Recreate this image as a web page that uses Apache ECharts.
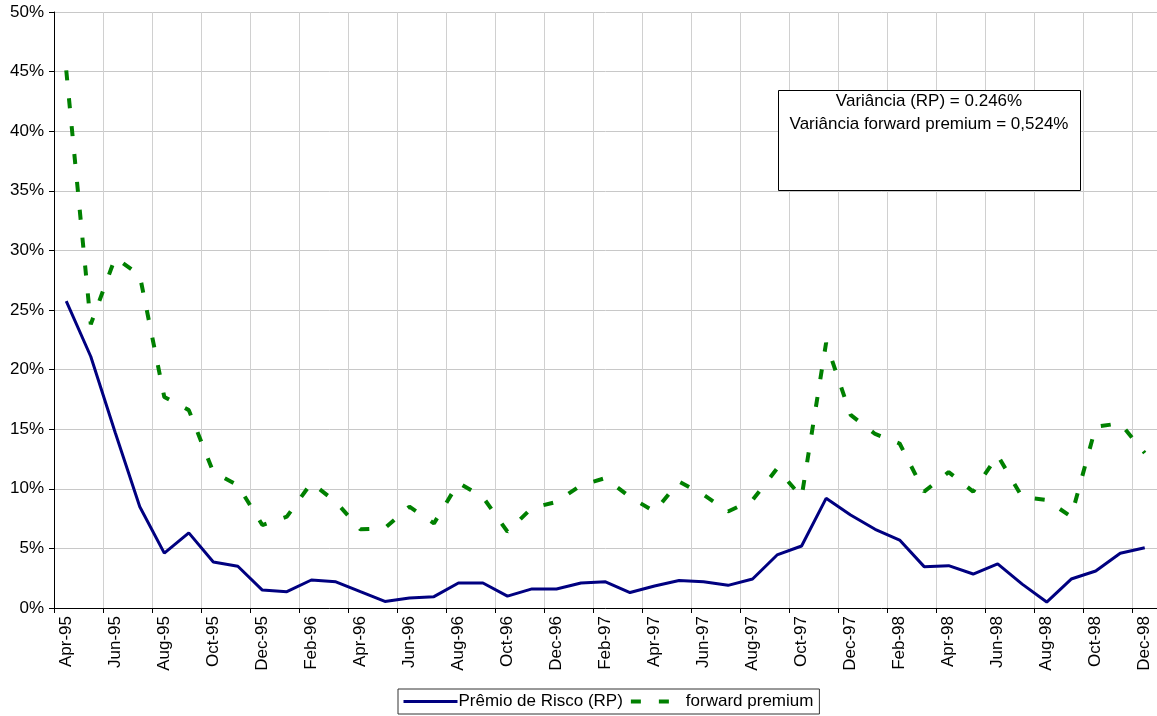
<!DOCTYPE html>
<html>
<head>
<meta charset="utf-8">
<script src="https://cdn.jsdelivr.net/npm/echarts@6/dist/echarts.min.js"></script>
<style>
  html, body { margin: 0; padding: 0; background: #fff; }
  #chart { width: 1157px; height: 716px; }
</style>
</head>
<body>
<div id="chart"></div>
<script>
// meses (abr/95 a dez/98)
const months = [
  'Apr-95', 'May-95', 'Jun-95', 'Jul-95', 'Aug-95', 'Sep-95', 'Oct-95', 'Nov-95', 'Dec-95',
  'Jan-96', 'Feb-96', 'Mar-96', 'Apr-96', 'May-96', 'Jun-96', 'Jul-96', 'Aug-96', 'Sep-96', 'Oct-96', 'Nov-96', 'Dec-96',
  'Jan-97', 'Feb-97', 'Mar-97', 'Apr-97', 'May-97', 'Jun-97', 'Jul-97', 'Aug-97', 'Sep-97', 'Oct-97', 'Nov-97', 'Dec-97',
  'Jan-98', 'Feb-98', 'Mar-98', 'Apr-98', 'May-98', 'Jun-98', 'Jul-98', 'Aug-98', 'Sep-98', 'Oct-98', 'Nov-98', 'Dec-98'
];

// Prêmio de Risco (RP), em %
const premioRisco = [
  25.75, 21.1, 14.7, 8.5, 4.6, 6.3, 3.86, 3.5, 1.5,
  1.37, 2.35, 2.2, 1.37, 0.55, 0.84, 0.95, 2.1, 2.1, 1.0, 1.6, 1.6,
  2.1, 2.2, 1.3, 1.85, 2.3, 2.2, 1.9, 2.43, 4.45, 5.2, 9.2, 7.8,
  6.6, 5.7, 3.47, 3.55, 2.85, 3.7, 2.0, 0.5, 2.43, 3.1, 4.6, 5.06
];

// forward premium, em %
const forwardPremium = [
  45.1, 23.8, 29.4, 27.9, 17.7, 16.6, 11.4, 10.3, 6.96,
  7.66, 10.5, 8.9, 6.6, 6.7, 8.5, 7.1, 10.5, 9.3, 6.4, 8.4, 8.9,
  10.3, 10.9, 9.3, 8.1, 10.6, 9.5, 8.1, 9.06, 11.7, 9.3, 22.25, 16.2,
  14.6, 13.8, 9.76, 11.4, 9.76, 12.8, 9.3, 9.06, 7.66, 15.2, 15.5, 13.0
];

const boxLines = [
  'Variância (RP) = 0.246%',
  'Variância forward premium = 0,524%'
];

const FONT = '"Liberation Sans", Arial, sans-serif';

const chart = echarts.init(document.getElementById('chart'));

chart.setOption({
  animation: false,
  textStyle: { fontFamily: FONT },
  grid: { left: 54, right: 0, top: 12, bottom: 108, containLabel: false },
  legend: {
    left: 398,
    top: 689,
    padding: [4, 6, 4, 4],
    borderColor: '#333',
    borderWidth: 1,
    backgroundColor: '#fff',
    itemWidth: 54,
    itemHeight: 12,
    itemGap: 6,
    // esconde o marcador, mantém só a linha
    itemStyle: { opacity: 0 },
    textStyle: { fontFamily: FONT, fontSize: 17, color: '#000', padding: [0, 0, 0, -4] },
    data: [
      { name: 'Prêmio de Risco (RP)', lineStyle: { width: 3 } },
      { name: 'forward premium', lineStyle: { width: 4, type: [10, 18] } }
    ]
  },
  xAxis: {
    type: 'category',
    data: months,
    boundaryGap: true,
    axisLine: { lineStyle: { color: '#000', width: 1 } },
    axisTick: { show: true, interval: 1, length: 5, lineStyle: { color: '#000' } },
    axisLabel: {
      interval: 1,
      rotate: 90,
      margin: 8,
      fontFamily: FONT,
      fontSize: 17,
      color: '#000'
    },
    splitLine: { show: true, interval: 1, lineStyle: { color: '#d0d0d0', width: 1 } }
  },
  yAxis: {
    type: 'value',
    min: 0,
    max: 50,
    interval: 5,
    axisLine: { show: true, lineStyle: { color: '#000', width: 1 } },
    axisTick: { show: true, length: 5, lineStyle: { color: '#000' } },
    axisLabel: {
      formatter: '{value}%',
      margin: 10,
      fontFamily: FONT,
      fontSize: 17,
      color: '#000'
    },
    splitLine: { show: true, lineStyle: { color: '#c8c8c8', width: 1 } }
  },
  series: [
    {
      name: 'Prêmio de Risco (RP)',
      type: 'line',
      data: premioRisco,
      symbol: 'none',
      lineStyle: { color: '#000080', width: 3 },
      itemStyle: { color: '#000080' },
      z: 3
    },
    {
      name: 'forward premium',
      type: 'line',
      data: forwardPremium,
      symbol: 'none',
      lineStyle: { color: '#008000', width: 4, type: [10, 18] },
      itemStyle: { color: '#008000' },
      z: 2
    }
  ],
  graphic: [
    {
      type: 'rect',
      shape: { x: 778.5, y: 90.5, width: 302, height: 100 },
      style: { fill: '#fff', stroke: '#000', lineWidth: 1 },
      z: 10
    },
    {
      type: 'text',
      x: 929,
      y: 101,
      style: {
        text: boxLines[0],
        font: '17px ' + FONT,
        fill: '#000',
        align: 'center',
        verticalAlign: 'middle'
      },
      z: 11
    },
    {
      type: 'text',
      x: 929,
      y: 124,
      style: {
        text: boxLines[1],
        font: '17px ' + FONT,
        fill: '#000',
        align: 'center',
        verticalAlign: 'middle'
      },
      z: 11
    }
  ]
});
</script>
</body>
</html>
